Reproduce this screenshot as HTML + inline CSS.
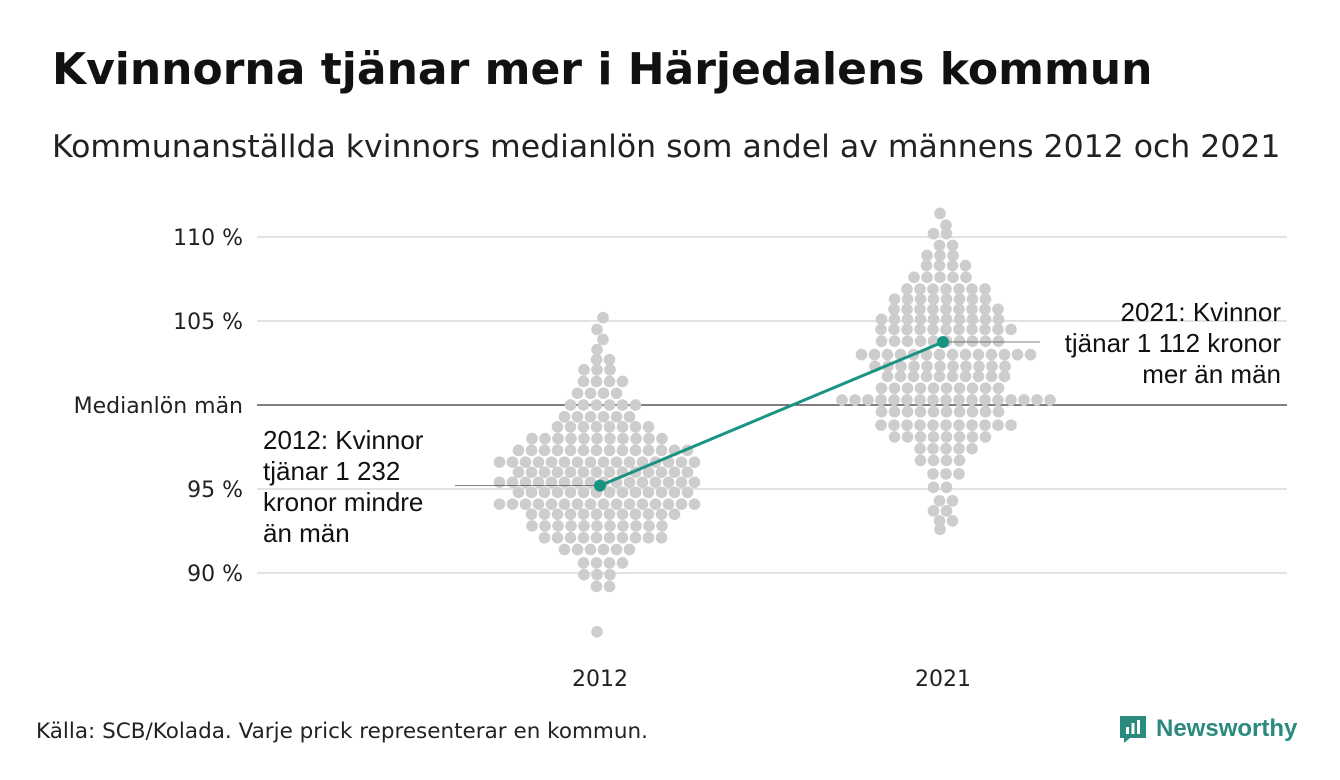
<!DOCTYPE html>
<html><head><meta charset="utf-8">
<style>
html,body{margin:0;padding:0;background:#fff;}
body{width:1340px;height:780px;position:relative;overflow:hidden;font-family:"DejaVu Sans",sans-serif;}
#title{position:absolute;left:52px;top:44px;font-size:44px;font-weight:bold;color:#111;}
#subtitle{position:absolute;left:52px;top:129px;font-size:31.5px;color:#222;}
#source{position:absolute;left:36px;top:719px;font-size:21.5px;color:#222;}
#logo{position:absolute;left:1118px;top:714px;display:flex;align-items:center;}
#logo span{font-size:24px;font-weight:bold;color:#2a8a7e;margin-left:8px;font-family:"Liberation Sans",sans-serif;}
svg{position:absolute;left:0;top:0;}
</style></head>
<body>
<div id="title">Kvinnorna tjänar mer i Härjedalens kommun</div>
<div id="subtitle">Kommunanställda kvinnors medianlön som andel av männens 2012 och 2021</div>
<svg id="chart" width="1340" height="780"></svg>
<div id="source">Källa: SCB/Kolada. Varje prick representerar en kommun.</div>
<div id="logo">
<svg width="30" height="30" style="position:static" viewBox="0 0 30 30"><path d="M2 2h26v22H12l-6 5v-5H2z" fill="#2a8a7e"/><rect x="8" y="13" width="3" height="7" fill="#fff"/><rect x="13.5" y="9" width="3" height="11" fill="#fff"/><rect x="19" y="6" width="3" height="14" fill="#fff"/></svg>
<span>Newsworthy</span></div>
<script>
const yTicks=[110,105,100,95,90];
const yTickLabels=["110 %","105 %","Medianlön män","95 %","90 %"];
const years=["2012","2021"];
const highlight=[95.2,103.75];
const rows2012=[86.5,89.2,89.9,90.6,91.4,92.1,92.8,93.5,94.1,94.8,95.4,96.0,96.6,97.3,98.0,98.7,99.3,100.0,100.7,101.4,102.1,102.7,103.3,103.9,104.5,105.2];
const counts2012=[1,2,3,4,6,10,11,12,16,14,16,14,16,14,11,8,6,6,4,4,3,2,1,1,1,1];
const rows2021=[111.4,110.7,110.2,109.5,108.9,108.3,107.6,106.9,106.3,105.7,105.1,104.5,103.8,103.0,102.3,101.7,101.0,100.3,99.6,98.8,98.1,97.4,96.7,95.9,95.1,94.3,93.7,93.1,92.6];
const counts2021=[1,1,2,2,3,4,5,7,8,9,10,11,10,14,11,10,10,17,10,11,8,5,4,3,2,2,2,2,1];
const svg=document.getElementById('chart');
const NS='http://www.w3.org/2000/svg';
const y=v=>405-(v-100)*16.8;
const xc=[600,943];
function mk(t,a){const e=document.createElementNS(NS,t);for(const k in a)e.setAttribute(k,a[k]);svg.appendChild(e);return e;}
yTicks.forEach((t,i)=>{
 const l=mk('line',{x1:257,x2:1287,y1:y(t),y2:y(t),stroke:t===100?'#333':'#e3e3e3','stroke-width':t===100?1.2:2});
 
 
 const tx=mk('text',{x:243,y:y(t)+8,'text-anchor':'end','font-size':22,fill:'#222','font-family':'DejaVu Sans, sans-serif'});
 tx.textContent=yTickLabels[i];
 
 
});
years.forEach((yr,i)=>{
 const tx=mk('text',{x:xc[i],y:686,'text-anchor':'middle','font-size':22,fill:'#222','font-family':'DejaVu Sans, sans-serif'});
 tx.textContent=yr;
 
 
});
function swarm(rows,counts,cx){
 rows.forEach((v,r)=>{const n=counts[r];
  for(let i=0;i<n;i++){
   const c=mk('circle',{cx:cx+(i-(n-1)/2)*13+(r%2?3:-3),cy:y(v),r:5.8,fill:'#cdcdcd'});
   
   
  }});
}
swarm(rows2012,counts2012,xc[0]);
swarm(rows2021,counts2021,xc[1]);
const l1=mk('line',{x1:455,x2:xc[0],y1:y(highlight[0]),y2:y(highlight[0]),stroke:'#555','stroke-width':0.8});


const l2=mk('line',{x1:xc[1],x2:1040,y1:y(highlight[1]),y2:y(highlight[1]),stroke:'#555','stroke-width':0.8});


const hl=mk('line',{x1:xc[0],y1:y(highlight[0]),x2:xc[1],y2:y(highlight[1]),stroke:'#1a9482','stroke-width':3});


highlight.forEach((v,i)=>{
 const c=mk('circle',{cx:xc[i],cy:y(v),r:6,fill:'#1a9482'});
 
 
});
const ann1=["2012: Kvinnor","tjänar 1 232","kronor mindre","än män"];
ann1.forEach((s,i)=>{const t=mk('text',{x:263,y:449+i*31,'font-size':26,fill:'#111','font-family':'Liberation Sans, sans-serif'});t.textContent=s;
 
 });
const ann2=["2021: Kvinnor","tjänar 1 112 kronor","mer än män"];
ann2.forEach((s,i)=>{const t=mk('text',{x:1281,y:321+i*31,'text-anchor':'end','font-size':26,fill:'#111','font-family':'Liberation Sans, sans-serif'});t.textContent=s;
 
 });
</script>
</body></html>
